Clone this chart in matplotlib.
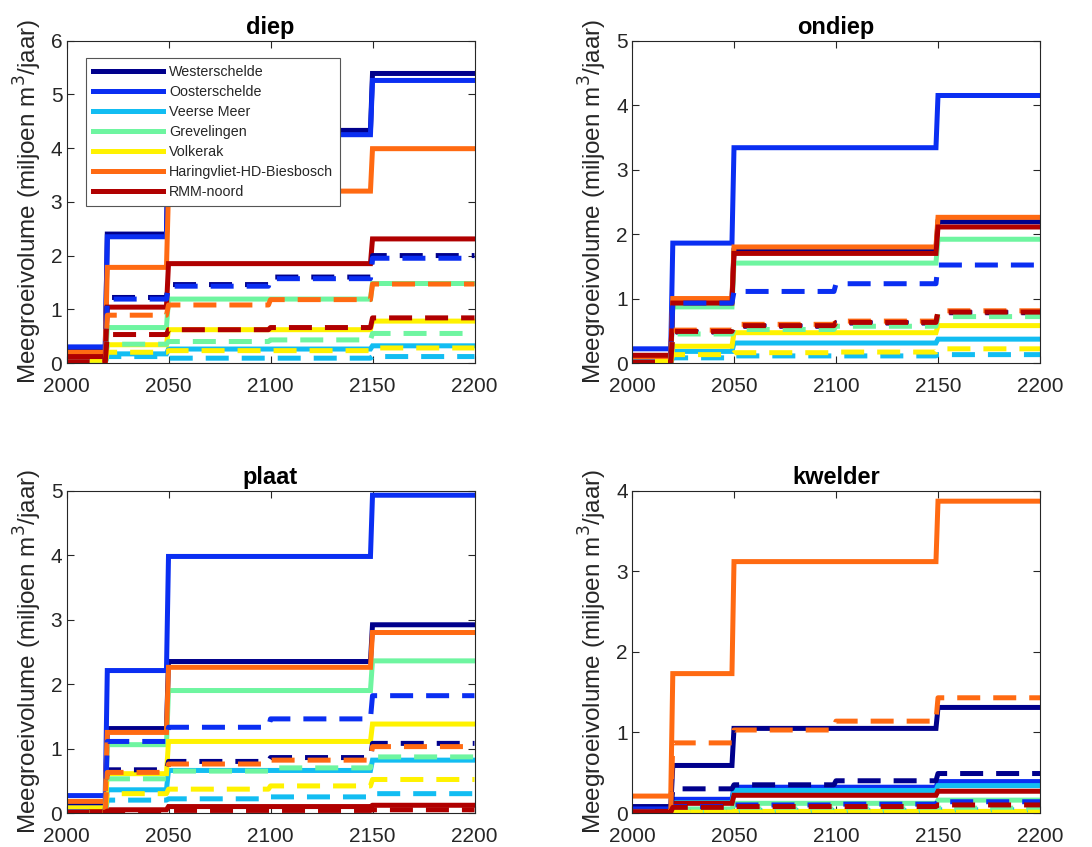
import numpy as np
import matplotlib
matplotlib.use("Agg")
import matplotlib.pyplot as plt

plt.rcParams['font.family'] = ['Liberation Sans', 'DejaVu Sans']

names = ["Westerschelde", "Oosterschelde", "Veerse Meer", "Grevelingen",
         "Volkerak", "Haringvliet-HD-Biesbosch", "RMM-noord"]
colors = ["#00008C", "#0A2EF2", "#12BDF2", "#6EF5A0", "#FFF200", "#FF6A12", "#B00000"]

panels = ["diep", "ondiep", "plaat", "kwelder"]
ylims = [6, 5, 5, 4]

# solid lines: segments 2000-2020, 2020-2050, 2050-2150, 2150-2200
edges_solid = [2000, 2020, 2050, 2150, 2200]
# dashed lines: segments 2000-2020, 2020-2050, 2050-2100, 2100-2150, 2150-2200
edges_dash = [2000, 2020, 2050, 2100, 2150, 2200]

solid_diep = [
    [0.25, 2.40, 4.33, 5.39],
    [0.30, 2.35, 4.25, 5.26],
    [0.02, 0.17, 0.26, 0.32],
    [0.01, 0.66, 1.19, 1.48],
    [0.05, 0.34, 0.62, 0.78],
    [0.20, 1.78, 3.20, 3.99],
    [0.12, 1.04, 1.85, 2.31],
]
dash_diep = [
    [0.02, 1.22, 1.46, 1.60, 2.00],
    [0.02, 1.19, 1.43, 1.57, 1.95],
    [0.01, 0.12, 0.09, 0.09, 0.12],
    [0.01, 0.35, 0.40, 0.43, 0.55],
    [0.01, 0.20, 0.23, 0.23, 0.28],
    [0.02, 0.89, 1.08, 1.18, 1.47],
    [0.02, 0.53, 0.62, 0.66, 0.84],
]

solid_ondiep = [
    [0.08, 0.96, 1.75, 2.19],
    [0.22, 1.86, 3.34, 4.15],
    [0.01, 0.18, 0.31, 0.37],
    [0.02, 0.87, 1.55, 1.92],
    [0.03, 0.26, 0.47, 0.58],
    [0.10, 1.00, 1.80, 2.26],
    [0.12, 0.93, 1.70, 2.11],
]
dash_ondiep = [
    [0.01, 0.48, 0.57, 0.62, 0.78],
    [0.02, 0.93, 1.11, 1.23, 1.52],
    [0.01, 0.08, 0.11, 0.11, 0.13],
    [0.01, 0.45, 0.52, 0.57, 0.72],
    [0.01, 0.13, 0.16, 0.17, 0.22],
    [0.01, 0.51, 0.60, 0.65, 0.81],
    [0.01, 0.49, 0.58, 0.63, 0.79],
]

solid_plaat = [
    [0.15, 1.31, 2.35, 2.92],
    [0.27, 2.21, 3.98, 4.93],
    [0.03, 0.36, 0.66, 0.82],
    [0.05, 1.06, 1.90, 2.36],
    [0.08, 0.61, 1.11, 1.38],
    [0.18, 1.25, 2.26, 2.80],
    [0.02, 0.05, 0.10, 0.12],
]
dash_plaat = [
    [0.01, 0.67, 0.80, 0.86, 1.08],
    [0.02, 1.11, 1.33, 1.46, 1.82],
    [0.01, 0.20, 0.22, 0.25, 0.30],
    [0.01, 0.53, 0.65, 0.70, 0.87],
    [0.01, 0.30, 0.37, 0.42, 0.52],
    [0.01, 0.63, 0.76, 0.82, 1.03],
    [0.01, 0.03, 0.04, 0.04, 0.05],
]

solid_kwelder = [
    [0.08, 0.59, 1.05, 1.31],
    [0.05, 0.17, 0.32, 0.39],
    [0.01, 0.13, 0.28, 0.34],
    [0.01, 0.05, 0.12, 0.16],
    [0.00, 0.01, 0.02, 0.02],
    [0.21, 1.73, 3.12, 3.87],
    [0.02, 0.12, 0.22, 0.27],
]
dash_kwelder = [
    [0.01, 0.30, 0.35, 0.40, 0.49],
    [0.01, 0.08, 0.10, 0.11, 0.14],
    [0.00, 0.02, 0.03, 0.03, 0.04],
    [0.00, 0.03, 0.05, 0.05, 0.06],
    [0.00, 0.01, 0.01, 0.01, 0.01],
    [0.01, 0.87, 1.03, 1.14, 1.43],
    [0.01, 0.07, 0.08, 0.08, 0.10],
]

solids = [solid_diep, solid_ondiep, solid_plaat, solid_kwelder]
dashes = [dash_diep, dash_ondiep, dash_plaat, dash_kwelder]

years = np.arange(2000, 2201)


def expand(edges, vals):
    idx = np.searchsorted(np.array(edges[1:-1]), years, side='right')
    return np.array(vals)[idx]


fig = plt.figure(figsize=(10.92, 8.47), dpi=100)
W, H = 1092, 847
boxes = [(66.5, 40.7), (632, 40.7), (66.5, 490.7), (632, 490.7)]
aw, ah = 408, 322.3
gray = '#262626'
lw = 3.6

for k, (x0, y0) in enumerate(boxes):
    ax = fig.add_axes([x0 / W, 1 - (y0 + ah) / H, aw / W, ah / H])
    handles = []
    for i in range(7):
        h, = ax.plot(years, expand(edges_solid, solids[k][i]), color=colors[i],
                     lw=lw, solid_joinstyle='miter', label=names[i])
        handles.append(h)
    for i in range(7):
        ax.plot(years, expand(edges_dash, dashes[k][i]), color=colors[i],
                lw=lw, dashes=(4.6, 2.6))
    ax.set_xlim(2000, 2200)
    ax.set_ylim(0, ylims[k])
    ax.set_xticks([2000, 2050, 2100, 2150, 2200])
    ax.set_yticks(np.arange(0, ylims[k] + 1))
    ax.tick_params(direction='in', top=True, right=True, length=5, width=0.8,
                   labelsize=15, colors=gray, labelcolor=gray)
    ax.tick_params(axis='x', pad=10)
    ax.tick_params(axis='y', pad=3)
    for s in ax.spines.values():
        s.set_color(gray)
        s.set_linewidth(0.8)
    ax.set_title(panels[k], fontsize=17, fontweight='bold', pad=5)
    ax.set_ylabel('Meegroeivolume (miljoen m$^3$/jaar)', fontsize=17.5,
                  color=gray, labelpad=5)
    if k == 0:
        leg = ax.legend(handles=handles, loc='upper left',
                        bbox_to_anchor=(0.048, 0.946), fontsize=10.3,
                        handlelength=4.9, labelspacing=0.42, borderaxespad=0,
                        fancybox=False, framealpha=1, edgecolor='#555555',
                        borderpad=0.5, handletextpad=0.4)
        leg.get_frame().set_linewidth(0.8)
        for t in leg.get_texts():
            t.set_color(gray)

fig.savefig('out.png', dpi=100)
